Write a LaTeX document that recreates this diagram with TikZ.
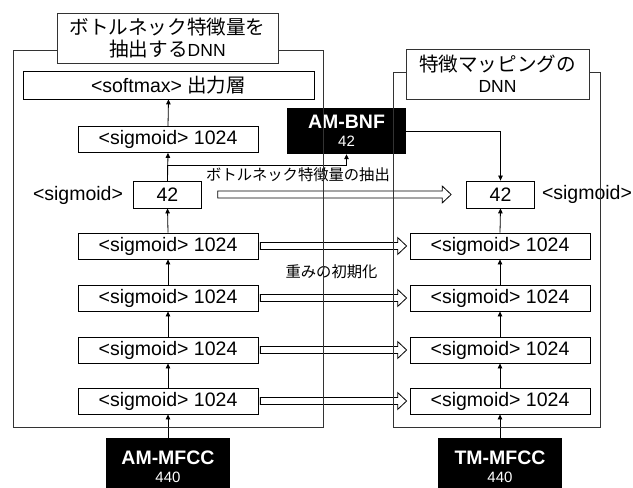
\documentclass[tikz,border=0pt]{standalone}
\usepackage{fontspec}
\setmainfont{Liberation Sans}
\newfontfamily\jp{Noto Sans CJK JP}
\usetikzlibrary{calc,arrows.meta}
\newcommand\numsize{\fontsize{15bp}{18bp}\selectfont}
\newcommand\hollowarrow[4]{%
  \draw[harrow] let \p1=(#1.east), \p2=(#2.west) in
    (\x1+#3,\y1-3.5) -- (\x2-#4-9,\y1-3.5) -- (\x2-#4-9,\y1-8.5) -- (\x2-#4,\y1)
    -- (\x2-#4-9,\y1+8.5) -- (\x2-#4-9,\y1+3.5) -- (\x1+#3,\y1+3.5) -- cycle;}
\begin{document}
\begin{tikzpicture}[x=1bp,y=-1bp,
  layer/.style={draw=black,line width=0.8bp,inner sep=0pt,
    font=\fontsize{19.5bp}{22bp}\selectfont},
  wide/.style={layer,minimum width=180bp,minimum height=26bp},
  small/.style={layer,minimum width=68bp,minimum height=27bp},
  lbl/.style={inner sep=0pt,font=\fontsize{19.5bp}{22bp}\selectfont},
  jlbl/.style={inner sep=0pt,font=\jp\fontsize{15.3bp}{18bp}\selectfont},
  feat/.style={fill=black,text=white,inner sep=0pt,align=center,
    font=\fontsize{19.5bp}{18bp}\selectfont},
  arr/.style={line width=0.8bp,-{Triangle[length=5bp,width=4.5bp]}},
  harrow/.style={line width=0.8bp},
  frame/.style={draw=black!80,line width=0.9bp},
  title/.style={draw=black!80,line width=0.9bp,fill=white,inner sep=0pt,
    align=center,font=\fontsize{17.5bp}{21.5bp}\selectfont}]
\useasboundingbox (0,0) rectangle (633,488);

% left DNN
\node[layer,minimum width=291bp,minimum height=28bp] (soft) at (168.5,85) {<softmax> {\jp\fontsize{19.5bp}{22bp}\selectfont 出力層}};
\node[wide] (ltop) at (168,139.5) {<sigmoid> 1024};
\node[small] (l42) at (167.5,194.5) {42};
\node[lbl] (lsig) at (78,195) {<sigmoid>};
\node[wide] (l4) at (168,246) {<sigmoid> 1024};
\node[wide] (l3) at (168,298) {<sigmoid> 1024};
\node[wide] (l2) at (168,350) {<sigmoid> 1024};
\node[wide] (l1) at (168,401) {<sigmoid> 1024};

% right DNN
\node[small] (r42) at (500.5,194.5) {42};
\node[lbl] (rsig) at (587,194.5) {<sigmoid>};
\node[wide] (r4) at (500,246) {<sigmoid> 1024};
\node[wide] (r3) at (500,298) {<sigmoid> 1024};
\node[wide] (r2) at (500,350) {<sigmoid> 1024};
\node[wide] (r1) at (500,401) {<sigmoid> 1024};

% features
\node[feat,minimum width=119bp,minimum height=46bp] (bnf) at (346.5,131) {\bfseries AM-BNF\\{\numsize 42}};
\node[feat,minimum width=124bp,minimum height=58bp] (amm) at (168,467) {\bfseries AM-MFCC\\{\numsize 440}};
\node[feat,minimum width=124bp,minimum height=58bp] (tmm) at (500,467) {\bfseries TM-MFCC\\{\numsize 440}};

% labels
\node[jlbl] (bnlabel) at (298,175) {ボトルネック特徴量の抽出};
\node[jlbl] (initlabel) at (331.5,271.5) {重みの初期化};

% thin arrows
\draw[arr] (amm.north) -- (l1.south);
\draw[arr] (l1.north) -- (l2.south);
\draw[arr] (l2.north) -- (l3.south);
\draw[arr] (l3.north) -- (l4.south);
\draw[arr] (l4.north) -- (l42.south);
\draw[arr] (l42.north) -- (ltop.south);
\draw[arr] (ltop.north) -- (soft.south);
\draw[arr] (l42.north) -- ++(0,-15) -| (bnf.south);
\draw[arr] (tmm.north) -- (r1.south);
\draw[arr] (r1.north) -- (r2.south);
\draw[arr] (r2.north) -- (r3.south);
\draw[arr] (r3.north) -- (r4.south);
\draw[arr] (r4.north) -- (r42.south);
\draw[arr] (bnf.east) -| (r42.north);

% hollow arrows
\hollowarrow{l42}{r42}{16}{15}
\hollowarrow{l4}{r4}{2}{3}
\hollowarrow{l3}{r3}{2}{3}
\hollowarrow{l2}{r2}{2}{3}
\hollowarrow{l1}{r1}{2}{3}

% frames
\draw[frame] (13,50) rectangle (323,427);
\draw[frame] (393,72) rectangle (600,427);

% titles
\node[title,minimum width=221bp,minimum height=50bp] (ltitle) at (167.5,38)
  {{\jp\fontsize{19.6bp}{21.5bp}\selectfont ボトルネック特徴量を}\\{\jp\fontsize{19.6bp}{21.5bp}\selectfont 抽出する}DNN};
\node[title,minimum width=183bp,minimum height=50bp] (rtitle) at (497.5,74)
  {{\jp\fontsize{19.6bp}{21.5bp}\selectfont 特徴マッピングの}\\DNN};
\end{tikzpicture}
\end{document}
